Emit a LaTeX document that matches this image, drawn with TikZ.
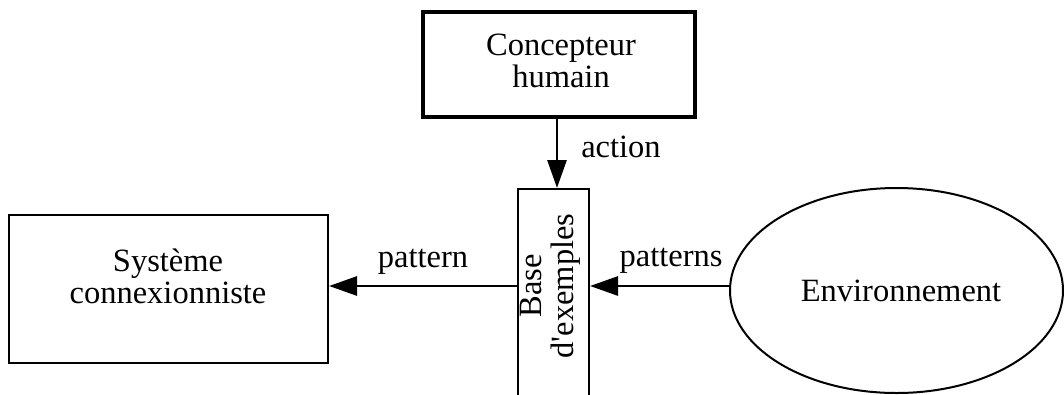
\documentclass[tikz,border=0pt]{standalone}
\usepackage{fontspec}
\setmainfont{Liberation Serif}
\usetikzlibrary{shapes.geometric,arrows.meta}
\begin{document}
\begin{tikzpicture}[x=1pt,y=-1pt,
  every node/.style={font=\fontsize{32.5}{32}\selectfont, align=center},
  boxthin/.style={draw, line width=2pt, inner sep=0pt},
  boxthick/.style={draw, line width=4pt, inner sep=0pt},
  arr/.style={line width=2.8pt, -{Triangle[length=28pt,width=19pt]}},
  lbl/.style={inner sep=0pt}]
\useasboundingbox (0,0) rectangle (1064,394);
\clip (0,0) rectangle (1064,394);
\node[boxthick, minimum width=272pt, minimum height=105pt] (concep) at (559,64.5) {};
\node[lbl] (concept) at (561,61) {Concepteur\\humain};
\node[boxthin, minimum width=71pt, minimum height=222pt] (base) at (553.5,300) {};
\node[lbl, rotate=90] (baset) at (550,286) {Base\\d\textquotesingle exemples};
\node[boxthin, minimum width=319pt, minimum height=148pt] (sys) at (168.5,289) {};
\node[lbl] (syst) at (168,276) {Système\\connexionniste};
\node[boxthin, ellipse, minimum width=333pt, minimum height=205pt] (env) at (896.5,290.5) {};
\node[lbl] (envt) at (901,291) {Environnement};
\coordinate (ax) at (557,0);
\coordinate (ay) at (0,286);
\draw[arr] (concep.south -| ax) -- (base.north -| ax);
\draw[arr] (env.west |- ay) -- (base.east |- ay);
\draw[arr] (base.west |- ay) -- (sys.east |- ay);
\node[lbl] (action) at (621,147) {action};
\node[lbl] (pattern) at (423,262) {pattern};
\node[lbl] (patterns) at (671,261) {patterns};
\end{tikzpicture}
\end{document}
